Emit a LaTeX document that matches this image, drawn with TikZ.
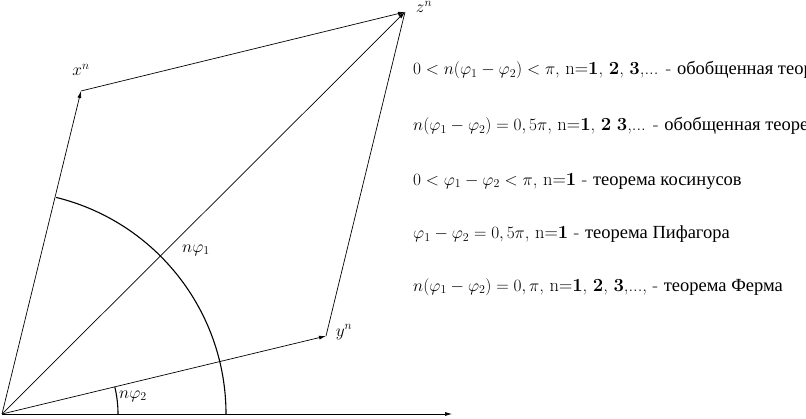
\documentclass[tikz,border=0pt]{standalone}
\usepackage{fontspec}
\newfontfamily\cyr{Liberation Serif}
\usetikzlibrary{arrows.meta}
\begin{document}
\begin{tikzpicture}[x=1pt,y=-1pt,
  vec/.style={line width=0.7pt,-{Latex[length=7pt,width=4pt]}},
  seg/.style={line width=0.7pt},
  arcline/.style={line width=1.1pt},
  lbl/.style={inner sep=0pt,font=\fontsize{18.5}{21}\selectfont},
  txt/.style={inner sep=0pt,anchor=west,font=\fontsize{18.5}{21}\selectfont}]
\useasboundingbox (0,0) rectangle (806,419);
\coordinate (O) at (2,414);
\coordinate (X) at (81,91);
\coordinate (Y) at (326,336);
\coordinate (Z) at (405,12);
\coordinate (E) at (452,414);
\draw[vec] (O) -- (E);
\draw[vec] (O) -- (X);
\draw[vec] (O) -- (Y);
\draw[vec] (O) -- (Z);
\draw[vec] (X) -- (Z);
\draw[seg] (Y) -- (Z);
\draw[arcline] (O) ++(0:224) arc[start angle=0,end angle=-76.2,radius=223];
\draw[arcline] (O) ++(0:116) arc[start angle=0,end angle=-13.5,radius=116];
\node[lbl] (lx) at (81,70) {$x^n$};
\node[lbl] (ly) at (344,332) {$y^n$};
\node[lbl] (lz) at (424,7) {$z^n$};
\node[lbl] (l1) at (196,250) {$n\varphi_1$};
\node[lbl] (l2) at (133,396) {$n\varphi_2$};
\node[txt] (t1) at (413,70) {$0<n(\varphi_1-\varphi_2)<\pi$, n=\textbf{1}, \textbf{2}, \textbf{3},... - {\cyr обобщенная теорема косинусов}};
\node[txt] (t2) at (413,126) {$n(\varphi_1-\varphi_2)=0,5\pi$, n=\textbf{1}, \textbf{2} \textbf{3},... - {\cyr обобщенная теорема Пифагора}};
\node[txt] (t3) at (413,181) {$0<\varphi_1-\varphi_2<\pi$, n=\textbf{1} - {\cyr теорема косинусов}};
\node[txt] (t4) at (413,234) {$\varphi_1-\varphi_2=0,5\pi$, n=\textbf{1} - {\cyr теорема Пифагора}};
\node[txt] (t5) at (413,287) {$n(\varphi_1-\varphi_2)=0,\pi$, n=\textbf{1}, \textbf{2}, \textbf{3},..., - {\cyr теорема Ферма}};
\end{tikzpicture}
\end{document}
